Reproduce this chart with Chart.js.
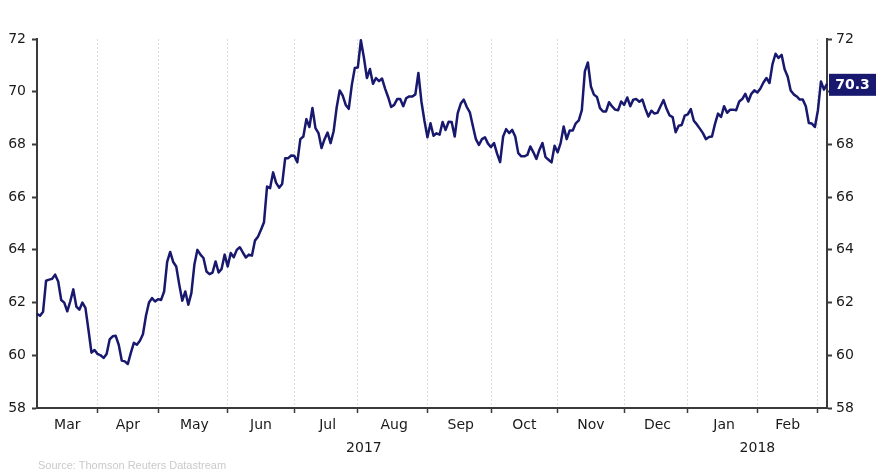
<!DOCTYPE html>
<html>
<head>
<meta charset="utf-8">
<script src="https://cdn.jsdelivr.net/npm/chart.js@4/dist/chart.umd.min.js"></script>
<style>
  html, body { margin: 0; padding: 0; background: #fff; }
  #wrap { position: relative; width: 877px; height: 474px; }
  #source {
    position: absolute; left: 38px; top: 459px;
    font: 11px "Liberation Sans", Arial, sans-serif; color: #cacaca;
  }
</style>
</head>
<body>
<div id="wrap">
  <canvas id="chart" width="877" height="474"></canvas>
  <div id="source">Source: Thomson Reuters Datastream</div>
</div>
<script>
// daily (weekday) values, one array per month
const mar2017 = [61.57, 61.5, 61.65, 62.83, 62.87, 62.9, 63.06, 62.8, 62.1, 62.0,
                 61.67, 62.05, 62.5, 61.85, 61.73, 62.0, 61.8, 60.97, 60.1, 60.2];
const apr2017 = [60.05, 60.0, 59.9, 60.05, 60.6, 60.72, 60.74, 60.4, 59.8, 59.77,
                 59.67, 60.09, 60.47, 60.4, 60.55, 60.8, 61.5, 62.0, 62.17, 62.04];
const may2017 = [62.13, 62.1, 62.42, 63.54, 63.92, 63.54, 63.37, 62.68, 62.07, 62.42,
                 61.92, 62.36, 63.44, 64.0, 63.82, 63.69, 63.18, 63.08, 63.14, 63.56,
                 63.14, 63.28, 63.82];
const jun2017 = [63.37, 63.88, 63.72, 64.0, 64.1, 63.9, 63.71, 63.82, 63.78, 64.35,
                 64.5, 64.76, 65.05, 66.4, 66.34, 66.94, 66.54, 66.36, 66.5, 67.48,
                 67.48, 67.58];
const jul2017 = [67.57, 67.32, 68.2, 68.3, 68.96, 68.66, 69.38, 68.62, 68.43, 67.86,
                 68.2, 68.45, 68.05, 68.5, 69.4, 70.05, 69.85, 69.5, 69.35, 70.25,
                 70.9];
const aug2017 = [70.92, 71.95, 71.3, 70.52, 70.86, 70.3, 70.52, 70.4, 70.5, 70.12,
                 69.8, 69.42, 69.5, 69.72, 69.72, 69.45, 69.76, 69.82, 69.82, 69.9,
                 70.71, 69.63, 68.9];
const sep2017 = [68.27, 68.8, 68.33, 68.42, 68.37, 68.85, 68.55, 68.86, 68.85, 68.3,
                 69.19, 69.55, 69.7, 69.42, 69.22, 68.7, 68.2, 67.98, 68.2, 68.27,
                 68.03];
const oct2017 = [67.9, 68.05, 67.65, 67.33, 68.3, 68.58, 68.43, 68.55, 68.3, 67.67,
                 67.55, 67.55, 67.6, 67.92, 67.7, 67.45, 67.8, 68.05, 67.52, 67.42,
                 67.32, 67.95];
const nov2017 = [67.7, 68.05, 68.68, 68.2, 68.53, 68.53, 68.8, 68.91, 69.3, 70.77,
                 71.11, 70.2, 69.89, 69.8, 69.38, 69.25, 69.25, 69.6, 69.44, 69.32,
                 69.3, 69.63];
const dec2017 = [69.5, 69.78, 69.45, 69.7, 69.72, 69.62, 69.7, 69.35, 69.06, 69.28,
                 69.17, 69.2, 69.45, 69.68, 69.35, 69.1, 69.04, 68.46, 68.71, 68.74,
                 69.09];
const jan2018 = [69.14, 69.34, 68.9, 68.76, 68.6, 68.43, 68.2, 68.28, 68.3, 68.78,
                 69.17, 69.04, 69.45, 69.2, 69.32, 69.32, 69.3, 69.63, 69.72, 69.92,
                 69.63, 69.92, 70.05];
const feb2018 = [69.97, 70.12, 70.35, 70.52, 70.33, 71.05, 71.44, 71.28, 71.4, 70.85,
                 70.58, 70.05, 69.9, 69.82, 69.7, 69.7, 69.45, 68.81, 68.79, 68.66];
const mar2018 = [69.3, 70.39, 70.08, 70.3];

const months = ['Mar', 'Apr', 'May', 'Jun', 'Jul', 'Aug', 'Sep', 'Oct', 'Nov', 'Dec', 'Jan', 'Feb', 'Mar'];
const years  = [2017, 2017, 2017, 2017, 2017, 2017, 2017, 2017, 2017, 2017, 2018, 2018, 2018];
const monthValues = [mar2017, apr2017, may2017, jun2017, jul2017, aug2017, sep2017,
                     oct2017, nov2017, dec2017, jan2018, feb2018, mar2018];
const yTicks = [58, 60, 62, 64, 66, 68, 70, 72];

const lineColor = '#18186e';
const axisColor = '#3a3a3a';
const textColor = '#1a1a1a';
const FONT = { family: '"DejaVu Sans", Verdana, sans-serif', size: 14 };

// flatten months into one series, remember where each month starts
const labels = [];
const values = [];
const monthStarts = [];
monthValues.forEach((arr, m) => {
    monthStarts.push(values.length);
    arr.forEach((v, d) => {
        labels.push(months[m] + ' ' + years[m] + ' #' + (d + 1));
        values.push(v);
    });
});
const lastValue = values[values.length - 1];

// month name sits in the middle of its month, last partial month gets none
const monthLabelAt = {};
for (let m = 0; m < months.length - 1; m++) {
    monthLabelAt[Math.round((monthStarts[m] + monthStarts[m + 1]) / 2)] = months[m];
}
const gridAt = new Set(monthStarts.slice(1));

// year label in the middle of its span
const yearLabelAt = {};
const uniqYears = [...new Set(years)];
uniqYears.forEach(yr => {
    const first = monthStarts[years.indexOf(yr)];
    const lastM = years.lastIndexOf(yr);
    const last = lastM + 1 < monthStarts.length ? monthStarts[lastM + 1] : values.length - 1;
    yearLabelAt[Math.round((first + last) / 2)] = String(yr);
});

const lastValueTag = {
    id: 'lastValueTag',
    afterDraw(chart) {
        const { ctx } = chart;
        const axis = chart.scales.y2;
        const y = axis.getPixelForValue(lastValue) + 1;
        const x = axis.left + 2;
        const w = chart.width - x - 1;
        ctx.save();
        ctx.fillStyle = lineColor;
        ctx.fillRect(x, y - 11, w, 22);
        ctx.fillStyle = '#ffffff';
        ctx.font = 'bold 14px "DejaVu Sans", Verdana, sans-serif';
        ctx.textAlign = 'center';
        ctx.textBaseline = 'middle';
        ctx.fillText(lastValue.toFixed(1), x + w / 2, y + 1);
        ctx.restore();
    }
};

const yAxis = (position, width, pad) => ({
    type: 'linear',
    position: position,
    min: yTicks[0],
    max: yTicks[yTicks.length - 1],
    afterBuildTicks: (scale) => { scale.ticks = yTicks.map(v => ({ value: v })); },
    afterFit: (scale) => { scale.width = width; },
    grid: { drawOnChartArea: false, drawTicks: true, tickLength: 5, tickColor: axisColor, tickWidth: 2 },
    border: { display: true, color: axisColor, width: 2 },
    ticks: { color: textColor, font: FONT, padding: pad }
});

new Chart(document.getElementById('chart'), {
    type: 'line',
    data: {
        labels: labels,
        datasets: [{
            data: values,
            borderColor: lineColor,
            borderWidth: 2.5,
            borderJoinStyle: 'round',
            pointRadius: 0,
            tension: 0,
            fill: false,
            xAxisID: 'x',
            yAxisID: 'y'
        }]
    },
    options: {
        responsive: false,
        animation: false,
        events: [],
        layout: { padding: { top: 39, left: 0, right: 0, bottom: 14 } },
        plugins: { legend: { display: false }, tooltip: { enabled: false } },
        scales: {
            x: {
                type: 'category',
                position: 'bottom',
                weight: 0,
                afterFit: (scale) => { scale.height = 30; },
                grid: {
                    drawOnChartArea: true,
                    drawTicks: true,
                    tickLength: 5,
                    lineWidth: 1,
                    color: (c) => gridAt.has(c.index) ? '#dcdcdc' : 'rgba(0,0,0,0)',
                    tickColor: (c) => gridAt.has(c.index) ? axisColor : 'rgba(0,0,0,0)',
                    tickWidth: 1.5,
                    tickBorderDash: []
                },
                border: { display: true, color: axisColor, width: 2, dash: [2, 2] },
                ticks: {
                    autoSkip: false,
                    maxRotation: 0,
                    minRotation: 0,
                    padding: 4,
                    color: textColor,
                    font: FONT,
                    callback: (val, i) => monthLabelAt[i] || ''
                }
            },
            x2: {
                type: 'category',
                position: 'bottom',
                weight: 1,
                afterFit: (scale) => { scale.height = 22; },
                grid: { display: false, drawTicks: false },
                border: { display: false },
                ticks: {
                    autoSkip: false,
                    maxRotation: 0,
                    minRotation: 0,
                    padding: 2,
                    color: textColor,
                    font: FONT,
                    callback: (val, i) => yearLabelAt[i] || ''
                }
            },
            y: yAxis('left', 37, 6),
            y2: yAxis('right', 50, 4)
        }
    },
    plugins: [lastValueTag]
});
</script>
</body>
</html>
